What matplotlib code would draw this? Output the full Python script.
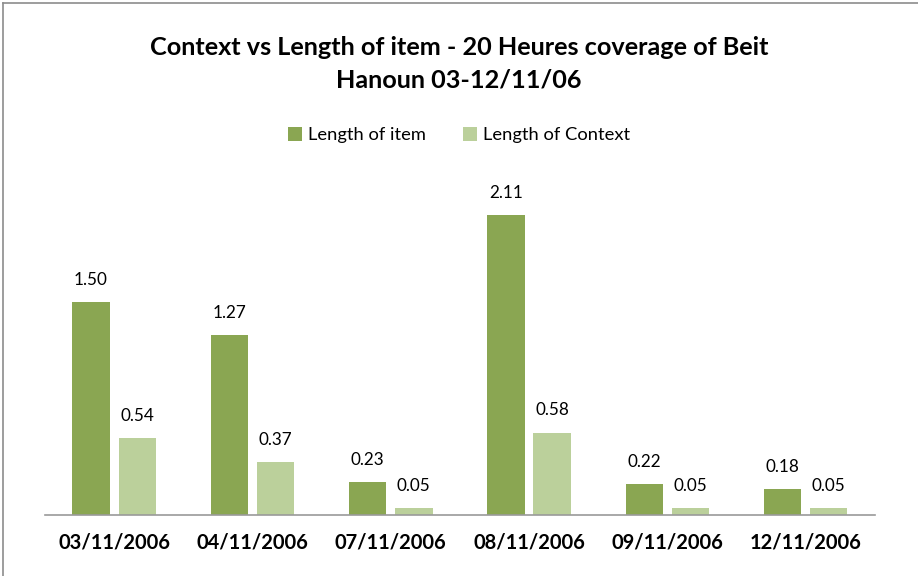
import numpy as np
import matplotlib
matplotlib.use("Agg")
import matplotlib.pyplot as plt
from matplotlib.lines import Line2D

plt.rcParams['font.family'] = ['Lato', 'DejaVu Sans']

dates = ["03/11/2006", "04/11/2006", "07/11/2006", "08/11/2006", "09/11/2006", "12/11/2006"]
length_item = [1.50, 1.27, 0.23, 2.11, 0.22, 0.18]
length_context = [0.54, 0.37, 0.05, 0.58, 0.05, 0.05]

dark = "#8AA652"
light = "#BBD09B"

fig = plt.figure(figsize=(9.18, 5.76), dpi=100)
ax = fig.add_axes([0.049, 0.106, 0.904, 0.616])

x = np.arange(len(dates))
w = 0.27
off = 0.167
b1 = ax.bar(x - off, length_item, w, color=dark, label="Length of item")
b2 = ax.bar(x + off, length_context, w, color=light, label="Length of Context")

for bars, vals in ((b1, length_item), (b2, length_context)):
    for r, v in zip(bars, vals):
        ax.text(r.get_x() + r.get_width() / 2, v + 0.1, "%.2f" % v,
                ha="center", va="bottom", fontsize=12.3)

ax.set_xlim(-0.5, len(dates) - 0.5)
ax.set_ylim(0, 2.5)
ax.set_yticks([])
ax.set_xticks(x)
ax.set_xticklabels(dates, fontsize=14.5, fontweight="bold")
ax.tick_params(axis="x", length=0, pad=13)
for s in ["top", "right", "left"]:
    ax.spines[s].set_visible(False)
ax.spines["bottom"].set_color("#9A9A9A")
ax.spines["bottom"].set_linewidth(1.2)

fig.text(0.5, 0.918, "Context vs Length of item - 20 Heures coverage of Beit",
         ha="center", va="center", fontsize=18.2, fontweight="bold")
fig.text(0.5, 0.861, "Hanoun 03-12/11/06",
         ha="center", va="center", fontsize=18.2, fontweight="bold")

fig.legend(handles=[b1, b2], loc="center", bbox_to_anchor=(0.5, 0.765), ncol=2,
           frameon=False, fontsize=13.2, handlelength=0.75, handleheight=0.75,
           handletextpad=0.35, columnspacing=2.0)

# outer chart frame (left and top edges visible)
fig.add_artist(Line2D([0.0035, 0.0035], [0, 0.995], transform=fig.transFigure,
                      color="#8C8C8C", lw=1.2))
fig.add_artist(Line2D([0.0035, 1], [0.995, 0.995], transform=fig.transFigure,
                      color="#8C8C8C", lw=1.2))

fig.savefig("out.png", dpi=100)
